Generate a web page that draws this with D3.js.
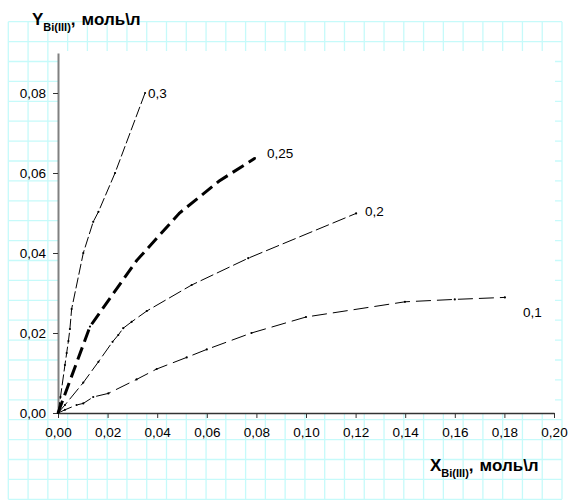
<!DOCTYPE html>
<html>
<head>
<meta charset="utf-8">
<script src="https://cdn.jsdelivr.net/npm/d3@7"></script>
<style>
    html, body { margin: 0; padding: 0; background: #fff; }
    svg { display: block; font-family: Arial, "Liberation Sans", sans-serif; }
    .tick text { font-size: 13.5px; fill: #000; }
</style>
</head>
<body>
<div id="chart"></div>
<script>
// ============================================
// Bi(III) extraction isotherms
// ============================================
const xTicks = [0, 0.02, 0.04, 0.06, 0.08, 0.10, 0.12, 0.14, 0.16, 0.18, 0.20];
const yTicks = [0, 0.02, 0.04, 0.06, 0.08];

const seriesNames = ['0,3', '0,25', '0,2', '0,1'];

const x03 = [0, 0.001, 0.0028, 0.0035, 0.0042, 0.0048, 0.0055, 0.0102, 0.0142, 0.0163, 0.023, 0.0351];
const y03 = [0, 0.004, 0.012, 0.015, 0.018, 0.021, 0.026, 0.040, 0.0478, 0.0503, 0.060, 0.080];

const x025 = [0, 0.0129, 0.0317, 0.049, 0.065, 0.0794];
const y025 = [0, 0.0216, 0.0381, 0.050, 0.058, 0.0637];

const x02 = [0, 0.0028, 0.0102, 0.0163, 0.022, 0.0243, 0.0263, 0.0297, 0.0358, 0.0539, 0.0767, 0.1202];
const y02 = [0, 0.002, 0.0076, 0.0128, 0.0178, 0.0195, 0.0212, 0.0228, 0.0255, 0.032, 0.0387, 0.0499];

const x01 = [0, 0.0028, 0.0075, 0.0102, 0.0142, 0.0203, 0.0317, 0.0398, 0.0519, 0.06, 0.078, 0.1, 0.1399, 0.16, 0.1802];
const y01 = [0, 0.0008, 0.002, 0.0024, 0.004, 0.0049, 0.0084, 0.011, 0.0139, 0.0159, 0.020, 0.024, 0.0278, 0.0284, 0.0289];

const seriesX = [x03, x025, x02, x01];
const seriesY = [y03, y025, y02, y01];

// styles per series
const strokeWidths = [1, 3, 1, 1];
const dashes = ['11,3', '13,6', '14,4', '15,6'];
const labelOffsets = [[3, 0], [12, -5], [9, -2], [18, 15]];

const W = 570, H = 502;

const svg = d3.select('#chart')
    .append('svg')
    .attr('width', W)
    .attr('height', H);

// Graph-paper background
const grid = svg.append('g').attr('class', 'paper');
const gx0 = 8.3, gx1 = 562, gy0 = 21.7, gy1 = 499.3;
const nCols = 28, nRows = 24;

grid.selectAll('line.v')
    .data(d3.range(nCols + 1))
    .enter()
    .append('line')
    .attr('class', 'v')
    .attr('x1', i => gx0 + i * (gx1 - gx0) / nCols)
    .attr('x2', i => gx0 + i * (gx1 - gx0) / nCols)
    .attr('y1', gy0)
    .attr('y2', gy1);

grid.selectAll('line.h')
    .data(d3.range(nRows + 1))
    .enter()
    .append('line')
    .attr('class', 'h')
    .attr('x1', gx0)
    .attr('x2', gx1)
    .attr('y1', i => gy0 + i * (gy1 - gy0) / nRows)
    .attr('y2', i => gy0 + i * (gy1 - gy0) / nRows);

grid.selectAll('line')
    .style('stroke', '#c6fafa')
    .style('stroke-width', 1.3);

// Scales
const x = d3.scaleLinear().domain([0, 0.2]).range([58, 554]);
const y = d3.scaleLinear().domain([0, 0.09]).range([413, 53]);

// White plot area over the paper
svg.append('rect')
    .attr('x', x(0))
    .attr('y', y(0.09) - 2)
    .attr('width', x(0.2) - x(0) + 1)
    .attr('height', y(0) - y(0.09) + 2)
    .style('fill', '#fff');

const fmt = d => d3.format('.2f')(d).replace('.', ',');

// X axis
const xAxis = svg.append('g')
    .attr('transform', `translate(0,${y(0)})`)
    .call(d3.axisBottom(x).tickValues(xTicks).tickSize(5).tickSizeOuter(0).tickPadding(9).tickFormat(fmt));
xAxis.select('.domain').style('stroke', '#333').style('stroke-width', 1.5);
xAxis.selectAll('.tick line').style('stroke', '#333');
xAxis.selectAll('.tick text').style('font-family', 'Arial, "Liberation Sans", sans-serif');

// Y axis
const yAxis = svg.append('g')
    .attr('transform', `translate(${x(0)},0)`)
    .call(d3.axisLeft(y).tickValues(yTicks).tickSize(5).tickSizeOuter(0).tickPadding(7).tickFormat(fmt));
yAxis.select('.domain').style('stroke', '#808080').style('stroke-width', 2);
yAxis.selectAll('.tick line').style('stroke', '#333');
yAxis.selectAll('.tick text').style('font-family', 'Arial, "Liberation Sans", sans-serif');

// Curves
const line = d3.line()
    .x(d => x(d[0]))
    .y(d => y(d[1]));

seriesNames.forEach((name, i) => {
    const pts = seriesX[i].map((v, k) => [v, seriesY[i][k]]);

    svg.append('path')
        .datum(pts)
        .attr('d', line)
        .style('fill', 'none')
        .style('stroke', '#000')
        .style('stroke-width', strokeWidths[i])
        .style('stroke-dasharray', dashes[i]);

    svg.selectAll(null)
        .data(pts)
        .enter()
        .append('circle')
        .attr('cx', d => x(d[0]))
        .attr('cy', d => y(d[1]))
        .attr('r', 1.1)
        .style('fill', '#000');

    const last = pts[pts.length - 1];
    svg.append('text')
        .attr('x', x(last[0]) + labelOffsets[i][0])
        .attr('y', y(last[1]) + labelOffsets[i][1])
        .attr('dy', '0.35em')
        .style('font-size', '13.5px')
        .text(name);
});

// Axis titles: Y_Bi(III), моль\л
function axisTitle(px, py, letter) {
    const t = svg.append('text')
        .attr('x', px)
        .attr('y', py)
        .style('font-size', '17px')
        .style('font-weight', 'bold');
    t.append('tspan').text(letter);
    t.append('tspan').attr('dy', 6).style('font-size', '11px').text('Bi(III)');
    t.append('tspan').attr('dy', -6).text(',');
    t.append('tspan').attr('dx', 6).text('моль\\л');
}
axisTitle(32, 25, 'Y');
axisTitle(430, 471, 'X');
</script>
</body>
</html>
